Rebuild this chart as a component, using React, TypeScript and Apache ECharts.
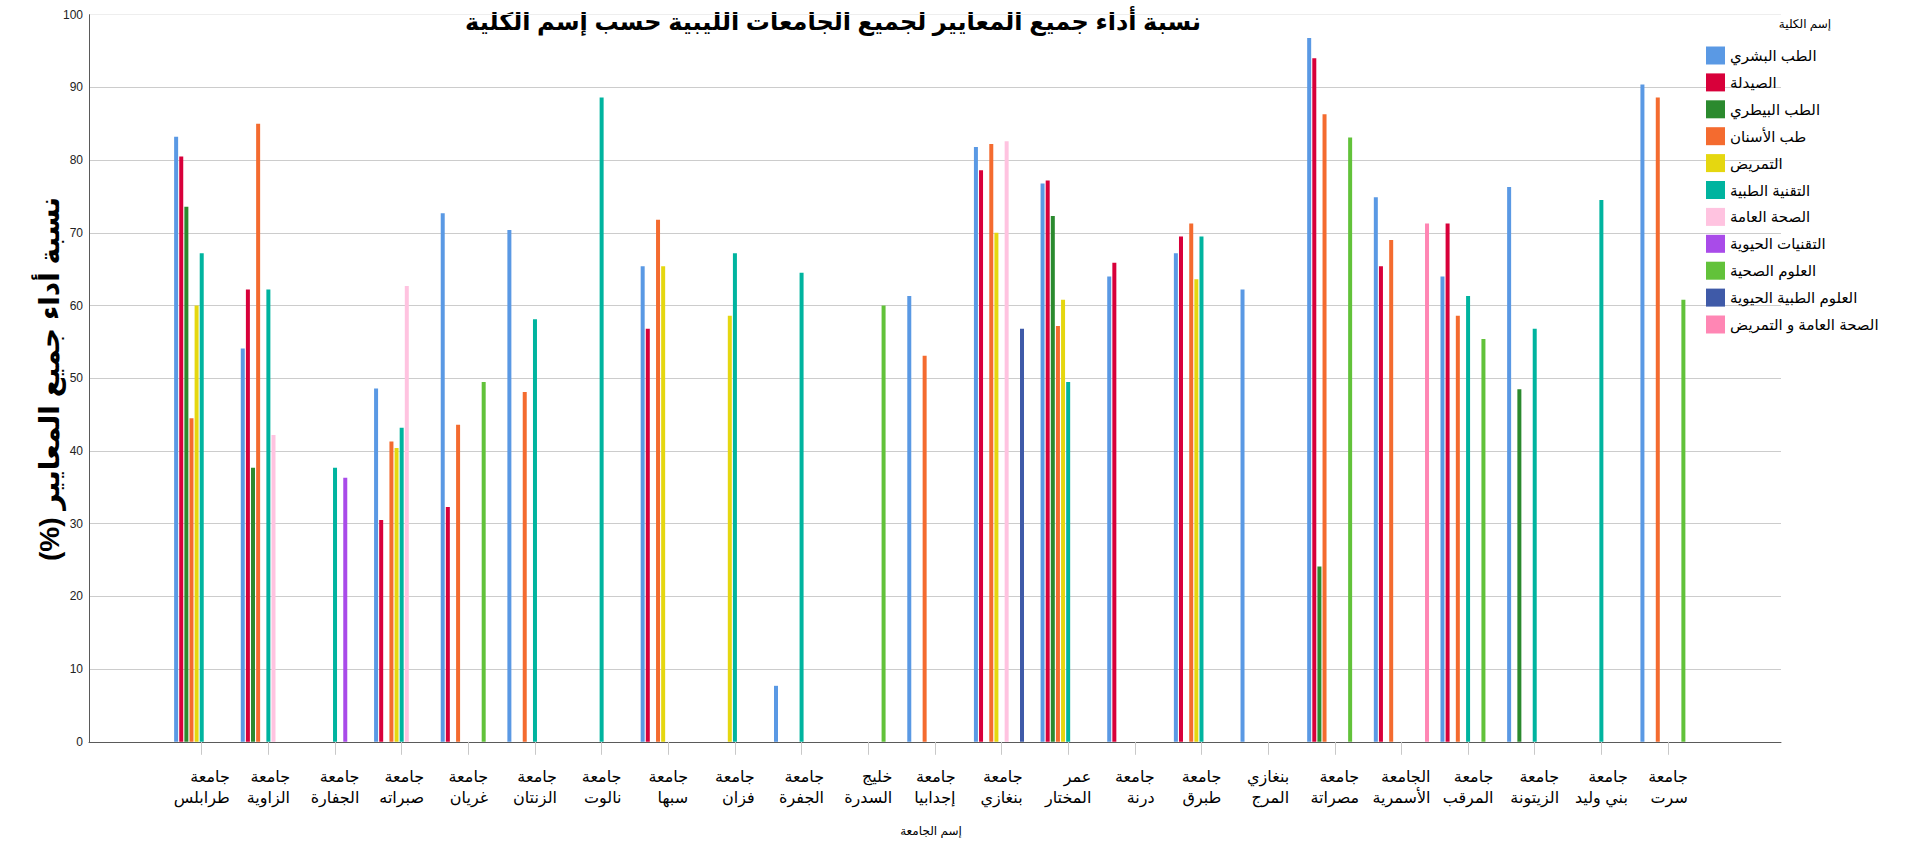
import React, { useEffect, useRef } from "react";
import * as echarts from "echarts";

const categories = [
  "جامعة طرابلس", "جامعة الزاوية", "جامعة الجفارة", "جامعة صبراته", "جامعة غريان",
  "جامعة الزنتان", "جامعة نالوت", "جامعة سبها", "جامعة فزان", "جامعة الجفرة",
  "خليج السدرة", "جامعة إجدابيا", "جامعة بنغازي", "عمر المختار", "جامعة درنة",
  "جامعة طبرق", "بنغازي المرج", "جامعة مصراتة", "الجامعة الأسمرية", "جامعة المرقب",
  "جامعة الزيتونة", "جامعة بني وليد", "جامعة سرت",
];

const seriesNames = [
  "الطب البشري", "الصيدلة", "الطب البيطري", "طب الأسنان", "التمريض", "التقنية الطبية",
  "الصحة العامة", "التقنيات الحيوية", "العلوم الصحية", "العلوم الطبية الحيوية", "الصحة العامة و التمريض",
];

const colors = [
  "#5a99e4", "#d8003a", "#2b8a2e", "#f46b2f", "#e5d710", "#00b49f",
  "#ffc3e0", "#a94be9", "#62c23a", "#3f5aa8", "#ff86b4",
];

const _ = null;
const medicine = [83.2, 54.1, _, 48.6, 72.7, 70.4, _, 65.4, _, 7.7, _, 61.3, 81.8, 76.8, 64.0, 67.2, 62.2, 96.8, 74.9, 64.0, 76.3, _, 90.4];
const pharmacy = [80.5, 62.2, _, 30.5, 32.3, _, _, 56.8, _, _, _, _, 78.6, 77.2, 65.9, 69.5, _, 94.0, 65.4, 71.3, _, _, _];
const veterinary = [73.6, 37.7, _, _, _, _, _, _, _, _, _, _, _, 72.3, _, _, _, 24.1, _, _, 48.5, _, _];
const dentistry = [44.5, 85.0, _, 41.3, 43.6, 48.1, _, 71.8, _, _, _, 53.1, 82.2, 57.2, _, 71.3, _, 86.3, 69.0, 58.6, _, _, 88.6];
const nursing = [60.0, _, _, 40.4, _, _, _, 65.4, 58.6, _, _, _, 70.0, 60.8, _, 63.6, _, _, _, _, _, _, _];
const medTech = [67.2, 62.2, 37.7, 43.2, _, 58.1, 88.6, _, 67.2, 64.5, _, _, _, 49.5, _, 69.5, _, _, _, 61.3, 56.8, 74.5, _];
const publicHealth = [_, 42.2, _, 62.7, _, _, _, _, _, _, _, _, 82.6, _, _, _, _, _, _, _, _, _, _];
const biotech = [_, _, 36.3, _, _, _, _, _, _, _, _, _, _, _, _, _, _, _, _, _, _, _, _];
const healthSci = [_, _, _, _, 49.5, _, _, _, _, _, 60.0, _, _, _, _, _, _, 83.1, _, 55.4, _, _, 60.8];
const biomedSci = [_, _, _, _, _, _, _, _, _, _, _, _, 56.8, _, _, _, _, _, _, _, _, _, _];
const publicHealthNursing = [_, _, _, _, _, _, _, _, _, _, _, _, _, _, _, _, _, _, 71.3, _, _, _, _];

const seriesData = [
  medicine, pharmacy, veterinary, dentistry, nursing, medTech,
  publicHealth, biotech, healthSci, biomedSci, publicHealthNursing,
];

const yTicks = [0, 10, 20, 30, 40, 50, 60, 70, 80, 90, 100];

const FONT = "'Liberation Sans', 'DejaVu Sans', Arial, sans-serif";
const RLM = "\u200F";

export default function App() {
  const ref = useRef<HTMLDivElement>(null);
  useEffect(() => {
    if (!ref.current) return;
    const chart = echarts.init(ref.current, null, { renderer: "svg" });
    const gridTop = 14.7;
    const gridBottom = 846 - 741.8;
    const splitColors = yTicks.map((t) => (t === 100 ? "#eeeeee" : "#cccccc"));
    const option: any = {
      animation: false,
      backgroundColor: "#ffffff",
      textStyle: { fontFamily: FONT },
      grid: [
        { left: 89, right: 1916 - 1781, top: gridTop, bottom: gridBottom, containLabel: false },
        { left: 168.4, width: 23 * 66.65, top: gridTop, bottom: gridBottom, containLabel: false },
      ],
      xAxis: [
        {
          type: "value", gridIndex: 0, min: 0, max: 1,
          axisLine: { show: true, onZero: false, lineStyle: { color: "#5a5a5a", width: 1 } },
          axisTick: { show: false }, axisLabel: { show: false }, splitLine: { show: false },
        },
        {
          type: "category", gridIndex: 1, data: categories,
          axisLine: { show: false },
          axisTick: { show: true, alignWithLabel: true, length: 13, lineStyle: { color: "#c8c8c8", width: 1 } },
          axisLabel: {
            interval: 0, margin: 24, color: "#000", fontFamily: FONT,
            formatter: (v: string) => {
              const i = v.indexOf(" ");
              return "{a|" + v.slice(0, i) + "}\n{a|" + v.slice(i + 1) + "}";
            },
            rich: { a: { align: "right", fontSize: 16, lineHeight: 21, color: "#000", fontFamily: FONT } },
          },
          splitLine: { show: false },
        },
      ],
      yAxis: [
        {
          type: "value", gridIndex: 0, min: 0, max: 100, interval: 10,
          axisLine: { show: true, lineStyle: { color: "#5a5a5a", width: 1 } },
          axisTick: { show: false },
          axisLabel: { color: "#222", fontSize: 12, margin: 6, fontFamily: FONT },
          splitLine: { show: true, lineStyle: { color: splitColors, width: 1 } },
        },
        {
          type: "value", gridIndex: 1, min: 0, max: 100, interval: 10, show: false,
          splitLine: { show: false },
        },
      ],
      legend: {
        orient: "vertical", left: 1706, top: 46.5, padding: 0,
        itemWidth: 19, itemHeight: 18, itemGap: 8.9, icon: "rect",
        textStyle: { fontSize: 15, color: "#000", fontFamily: FONT },
        data: seriesNames,
      },
      series: seriesNames.map((name, k) => ({
        name, type: "bar", xAxisIndex: 1, yAxisIndex: 1,
        data: seriesData[k], barWidth: 4, barGap: "28%",
        itemStyle: { color: colors[k] },
      })),
      graphic: [
        {
          type: "text", x: 833, y: 21,
          style: {
            text: "نسبة أداء جميع المعايير لجميع الجامعات الليبية حسب إسم الكلية",
            font: "bold 24px " + FONT, fill: "#000", textAlign: "center", textVerticalAlign: "middle",
          },
        },
        {
          type: "text", x: 49, y: 379, rotation: Math.PI / 2,
          style: {
            text: "نسبة أداء جميع المعايير (%)" + RLM,
            font: "bold 28px " + FONT, fill: "#000", textAlign: "center", textVerticalAlign: "middle",
          },
        },
        {
          type: "text", x: 931, y: 831,
          style: { text: "إسم الجامعة", font: "12px " + FONT, fill: "#000", textAlign: "center", textVerticalAlign: "middle" },
        },
        {
          type: "text", x: 1805, y: 24,
          style: { text: "إسم الكلية", font: "12px " + FONT, fill: "#000", textAlign: "center", textVerticalAlign: "middle" },
        },
      ],
    };
    chart.setOption(option);
    return () => chart.dispose();
  }, []);
  return (
    <div
      ref={ref}
      style={{ position: "fixed", left: 0, top: 0, width: 1916, height: 846, background: "#fff" }}
    />
  );
}
